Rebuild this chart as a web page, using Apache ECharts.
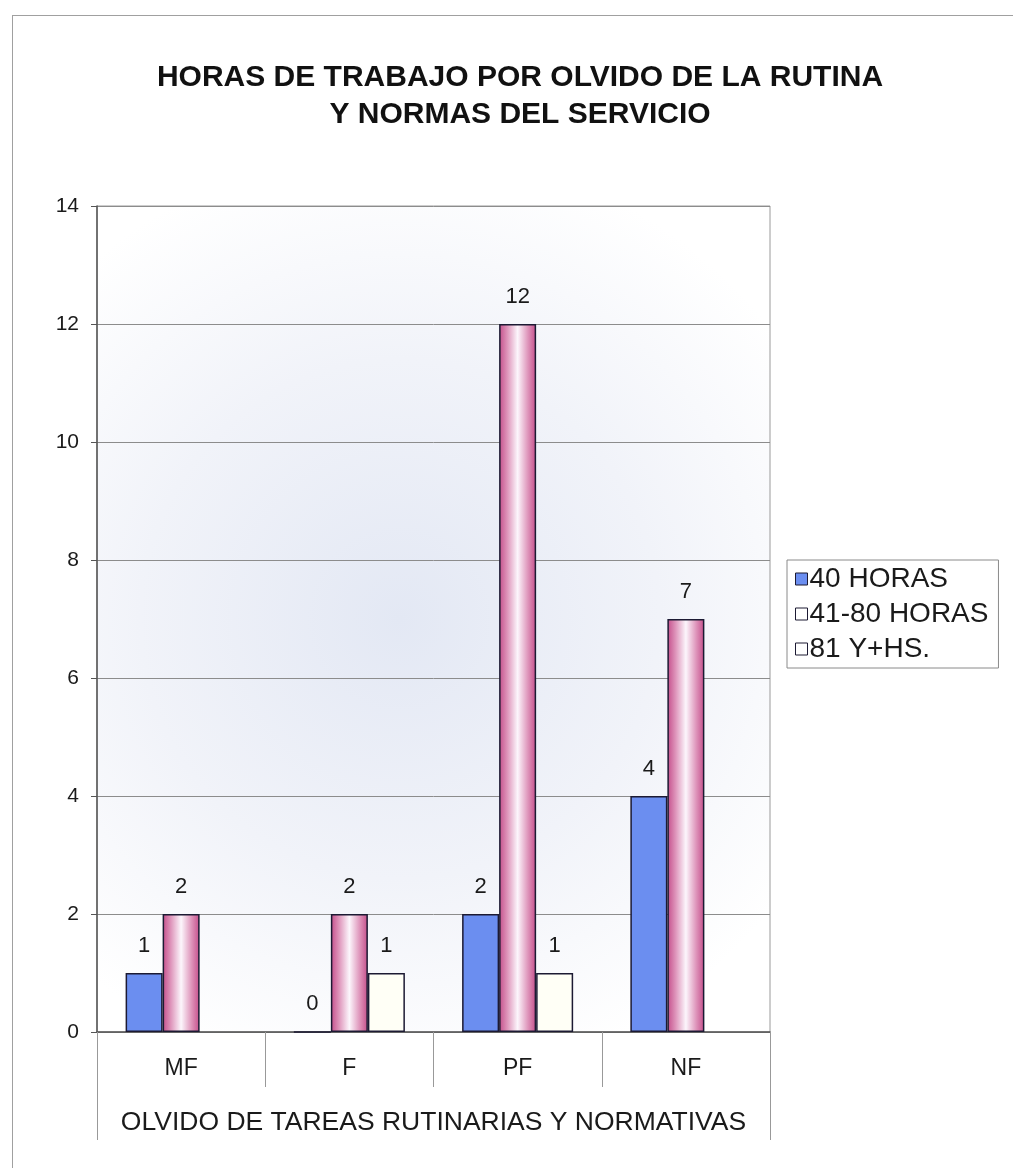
<!DOCTYPE html>
<html>
<head>
<meta charset="utf-8">
<script src="https://cdn.jsdelivr.net/npm/echarts@6/dist/echarts.min.js"></script>
<style>
  html, body { margin: 0; padding: 0; background: #ffffff; }
  #frame { position: absolute; left: 12px; top: 15px; width: 1001px; height: 1153px; border-left: 1px solid #a0a0a0; border-top: 1px solid #a0a0a0; box-sizing: border-box; }
  #chart { position: absolute; left: 0; top: 0; width: 1013px; height: 1168px; }
</style>
</head>
<body>
<div id="frame"></div>
<div id="chart"></div>
<script>
const titleText = 'HORAS DE TRABAJO POR OLVIDO DE LA RUTINA\nY NORMAS DEL SERVICIO';
const categories = ['MF', 'F', 'PF', 'NF'];
const axisTitle = 'OLVIDO DE TAREAS RUTINARIAS Y NORMATIVAS';
const seriesNames = ['40 HORAS', '41-80 HORAS', '81 Y+HS.'];
const horas40 = [1, 0, 2, 4];
const horas41a80 = [2, 2, 12, 7];
const horas81 = [null, 1, 1, null];
const yTicks = { min: 0, max: 14, interval: 2 };

const FONT = '"Liberation Sans", Arial, sans-serif';
const edge = '#1c1a33';
const pinkGrad = {
  type: 'linear', x: 0, y: 0, x2: 1, y2: 0,
  colorStops: [
    { offset: 0, color: '#c44d8a' },
    { offset: 0.22, color: '#de94ba' },
    { offset: 0.5, color: '#fcf6fc' },
    { offset: 0.78, color: '#de94ba' },
    { offset: 1, color: '#c44d8a' }
  ]
};
const labelCfg = { show: true, position: 'top', distance: 16, fontSize: 22, color: '#1a1a1a', fontFamily: FONT };

const chart = echarts.init(document.getElementById('chart'), null, { renderer: 'canvas' });
chart.setOption({
  backgroundColor: 'transparent',
  animation: false,
  title: {
    text: titleText,
    left: 515,
    textAlign: 'center',
    top: 54,
    textStyle: { fontFamily: FONT, fontSize: 30, fontWeight: 'bold', color: '#111', lineHeight: 37 }
  },
  legend: {
    orient: 'vertical',
    left: 787, top: 560,
    padding: [5, 10, 5, 8],
    itemWidth: 12, itemHeight: 12, itemGap: 7,
    borderColor: '#8a8a8a', borderWidth: 1,
    textStyle: { fontFamily: FONT, fontSize: 28, color: '#1a1a1a', lineHeight: 28, padding: [0, 0, 0, -3] },
    data: [
      { name: seriesNames[0], icon: 'rect', itemStyle: { color: '#6b8ef0', borderColor: edge, borderWidth: 1 } },
      { name: seriesNames[1], icon: 'rect', itemStyle: { color: '#ffffff', borderColor: edge, borderWidth: 1 } },
      { name: seriesNames[2], icon: 'rect', itemStyle: { color: '#ffffff', borderColor: edge, borderWidth: 1 } }
    ]
  },
  grid: {
    left: 97, top: 206, width: 673, height: 826,
    show: true,
    borderColor: '#9a9a9a', borderWidth: 1,
    backgroundColor: {
      type: 'radial', x: 0.45, y: 0.5, r: 0.7,
      colorStops: [
        { offset: 0, color: '#e3e8f4' },
        { offset: 0.55, color: '#f1f3f9' },
        { offset: 1, color: '#ffffff' }
      ]
    }
  },
  xAxis: [
    {
      type: 'category',
      data: categories,
      position: 'bottom',
      axisLine: { show: true, lineStyle: { color: '#555', width: 1.5 } },
      axisTick: { show: true, length: 55, lineStyle: { color: '#999', width: 1 } },
      axisLabel: { margin: 25, fontSize: 23, fontFamily: FONT, color: '#1a1a1a' }
    },
    {
      type: 'category',
      data: [axisTitle],
      position: 'bottom',
      axisLine: { show: false },
      axisTick: { show: true, length: 108, lineStyle: { color: '#999', width: 1 } },
      axisLabel: { margin: 77, fontSize: 26.5, fontFamily: FONT, color: '#1a1a1a' }
    }
  ],
  yAxis: {
    type: 'value',
    min: yTicks.min, max: yTicks.max, interval: yTicks.interval,
    axisLine: { show: true, lineStyle: { color: '#555', width: 1.5 } },
    axisTick: { show: true, length: 6, lineStyle: { color: '#555' } },
    axisLabel: { margin: 18, fontSize: 21, fontFamily: FONT, color: '#1a1a1a' },
    splitLine: { show: true, lineStyle: { color: '#8c8c8c', width: 1 } }
  },
  series: [
    {
      name: seriesNames[0], type: 'bar', data: horas40,
      barGap: '0%', barCategoryGap: '34%',
      itemStyle: { color: '#6b8ef0', borderColor: edge, borderWidth: 1.5 },
      label: labelCfg
    },
    {
      name: seriesNames[1], type: 'bar', data: horas41a80,
      barGap: '0%', barCategoryGap: '34%',
      itemStyle: { color: pinkGrad, borderColor: edge, borderWidth: 1.5 },
      label: labelCfg
    },
    {
      name: seriesNames[2], type: 'bar', data: horas81,
      barGap: '0%', barCategoryGap: '34%',
      itemStyle: { color: '#fffff6', borderColor: edge, borderWidth: 1.5 },
      label: labelCfg
    }
  ]
});
</script>
</body>
</html>
